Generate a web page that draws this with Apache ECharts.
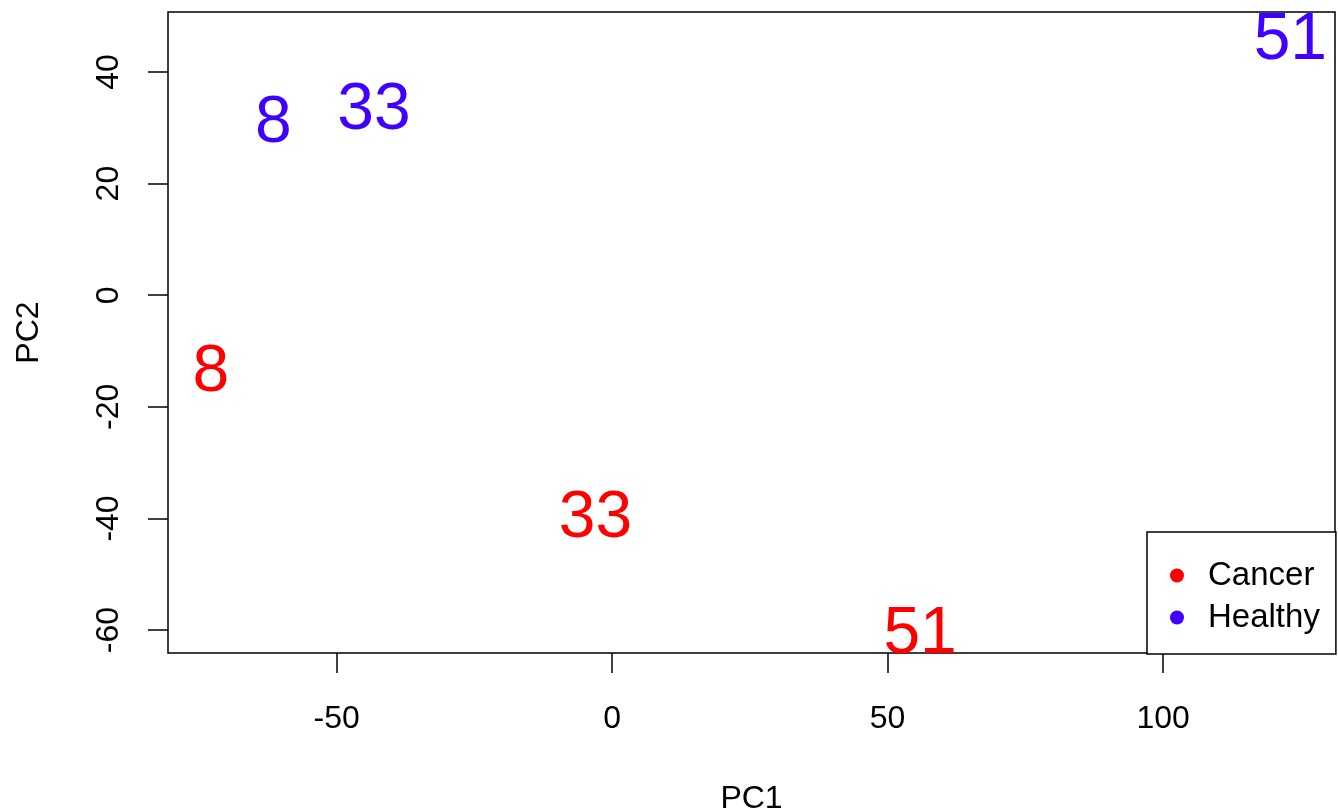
<!DOCTYPE html>
<html>
<head>
<meta charset="utf-8">
<script src="https://cdn.jsdelivr.net/npm/echarts@6/dist/echarts.min.js"></script>
<style>
html,body{margin:0;padding:0;background:#fff;}
#chart{width:1338px;height:812px;}
</style>
</head>
<body>
<div id="chart"></div>
<script>
// Sample identifiers shown as text labels
const sampleIds = ['8', '33', '51'];
// Cancer samples (PC1, PC2)
const cancerPC1 = [-72.8, -3.0, 55.9];
const cancerPC2 = [-13.0, -39.1, -59.9];
// Healthy samples (PC1, PC2)
const healthyPC1 = [-61.5, -43.2, 123.1];
const healthyPC2 = [31.7, 33.9, 46.4];
// Tick labels
const xTicks = [-50, 0, 50, 100];
const yTicks = [-60, -40, -20, 0, 20, 40];
const groupNames = ['Cancer', 'Healthy'];
const groupColors = ['#FF0000', '#3F00FF'];

const FONT = '"Liberation Sans", Arial, Helvetica, sans-serif';

function pts(xs, ys) {
  return xs.map((x, i) => ({ value: [x, ys[i]], name: sampleIds[i] }));
}

function makeSeries(name, color, data) {
  return {
    name: name,
    type: 'scatter',
    data: data,
    symbol: 'circle',
    symbolSize: 0,
    itemStyle: { color: color, opacity: 1 },
    label: {
      show: true,
      position: 'inside',
      offset: [0, 5],
      formatter: p => p.name,
      color: color,
      fontSize: 66,
      fontFamily: FONT
    },
    emphasis: { disabled: true },
    silent: true
  };
}

const chart = echarts.init(document.getElementById('chart'), null, { renderer: 'canvas' });
chart.setOption({
  animation: false,
  backgroundColor: '#ffffff',
  textStyle: { fontFamily: FONT },
  grid: {
    left: 168, top: 12, right: 3, bottom: 159,
    outerBoundsMode: 'none',
    containLabel: false,
    show: true, borderColor: '#000', borderWidth: 1.5, backgroundColor: 'transparent'
  },
  xAxis: {
    type: 'value',
    min: -80.6, max: 131.2,
    name: 'PC1',
    nameLocation: 'middle',
    nameGap: 130,
    nameTextStyle: { fontSize: 32, color: '#000', fontFamily: FONT },
    axisLine: { show: false, onZero: false },
    splitLine: { show: false },
    axisTick: { show: true, length: 20, lineStyle: { color: '#000', width: 1.5 }, customValues: xTicks },
    axisLabel: { fontSize: 32, color: '#000', margin: 50, fontFamily: FONT, customValues: xTicks }
  },
  yAxis: {
    type: 'value',
    min: -64.1, max: 50.75,
    name: 'PC2',
    nameLocation: 'middle',
    nameGap: 123,
    nameTextStyle: { fontSize: 32, color: '#000', fontFamily: FONT },
    axisLine: { show: false, onZero: false },
    splitLine: { show: false },
    axisTick: { show: true, length: 20, lineStyle: { color: '#000', width: 1.5 }, customValues: yTicks },
    axisLabel: { fontSize: 32, color: '#000', margin: 43, rotate: 90, fontFamily: FONT, customValues: yTicks }
  },
  legend: {
    orient: 'vertical',
    left: 1147,
    top: 532,
    padding: [27, 16, 20, 23],
    itemGap: 9,
    itemWidth: 14,
    itemHeight: 14,
    icon: 'circle',
    borderColor: '#000',
    borderWidth: 1.5,
    backgroundColor: '#fff',
    data: groupNames,
    formatter: n => '{t|' + n + '}',
    textStyle: {
      color: '#000', fontSize: 33, fontFamily: FONT,
      rich: { t: { fontSize: 33, color: '#000', fontFamily: FONT, padding: [0, 0, 0, 19] } }
    },
    selectedMode: false
  },
  series: [
    makeSeries(groupNames[0], groupColors[0], pts(cancerPC1, cancerPC2)),
    makeSeries(groupNames[1], groupColors[1], pts(healthyPC1, healthyPC2))
  ]
});
</script>
</body>
</html>
